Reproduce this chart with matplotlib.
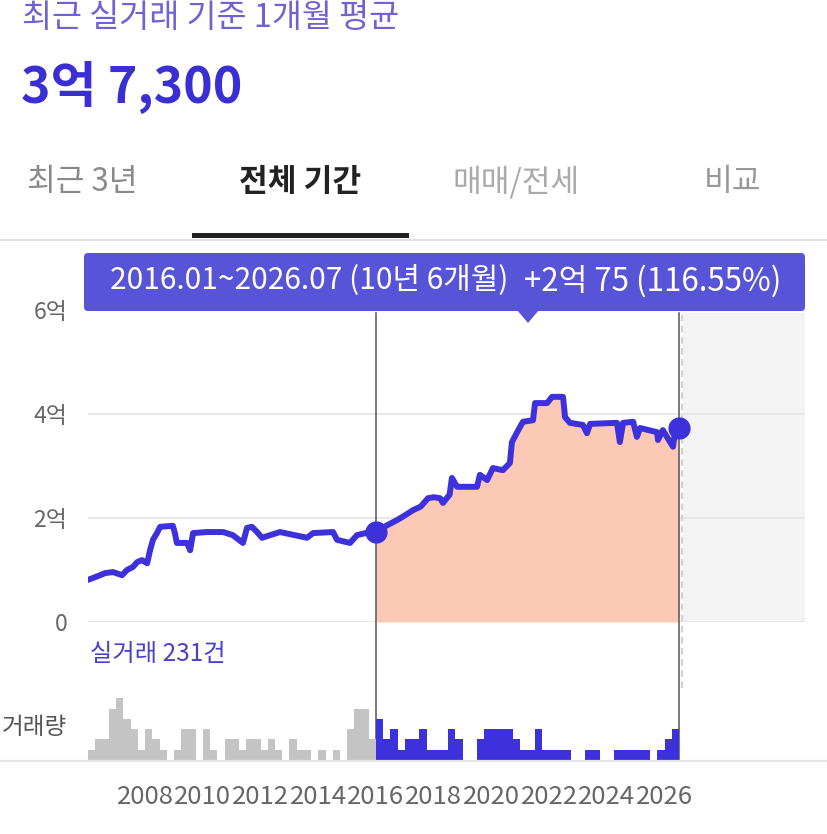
import numpy as np
import matplotlib
matplotlib.use('Agg')
import matplotlib.pyplot as plt
from matplotlib.patches import FancyBboxPatch, Polygon, Rectangle
from matplotlib.lines import Line2D

plt.rcParams['font.family'] = ['Noto Sans CJK KR', 'DejaVu Sans']

# ---------------- data ----------------
title_text = '최근 실거래 기준 1개월 평균'
price_text = '3억 7,300'
tabs = ['최근 3년', '전체 기간', '매매/전세', '비교']
tooltip_period = '2016.01~2026.07 (10년 6개월)'
tooltip_change = '+2억 75 (116.55%)'
count_text = '실거래 231건'
volume_label = '거래량'

price_t = [2006.02, 2006.44, 2006.61, 2006.89, 2007.20, 2007.37, 2007.58, 2007.72,
           2007.89, 2008.07, 2008.17, 2008.27, 2008.41, 2008.52, 2008.96, 2009.03,
           2009.10, 2009.45, 2009.56, 2009.66, 2010.14, 2010.70, 2011.04, 2011.39,
           2011.53, 2011.70, 2011.88, 2012.05, 2012.67, 2013.61, 2013.82, 2014.51,
           2014.65, 2015.10, 2015.34, 2015.79, 2016.00,
           2016.35, 2016.73, 2017.00, 2017.28, 2017.55, 2017.80, 2018.00, 2018.22,
           2018.32, 2018.55, 2018.63, 2018.81, 2019.50, 2019.60, 2019.85, 2020.05,
           2020.40, 2020.64, 2020.71, 2020.89, 2021.09, 2021.44, 2021.51, 2021.93,
           2022.10, 2022.48, 2022.55, 2022.72, 2023.17, 2023.31, 2023.42, 2024.35,
           2024.45, 2024.56, 2024.91, 2025.04, 2025.15, 2025.74, 2025.77, 2025.94,
           2026.29, 2026.36, 2026.50]
price_v = [0.81, 0.90, 0.94, 0.96, 0.90, 1.00, 1.06, 1.15,
           1.19, 1.13, 1.38, 1.58, 1.71, 1.83, 1.85, 1.71,
           1.52, 1.52, 1.38, 1.71, 1.73, 1.73, 1.67, 1.52,
           1.81, 1.83, 1.73, 1.62, 1.73, 1.62, 1.71, 1.73,
           1.58, 1.52, 1.67, 1.73, 1.7225,
           1.85, 1.96, 2.05, 2.15, 2.22, 2.38, 2.40, 2.38,
           2.29, 2.45, 2.77, 2.60, 2.60, 2.83, 2.73, 2.96,
           2.92, 3.06, 3.46, 3.65, 3.85, 3.88, 4.21, 4.21,
           4.33, 4.33, 3.94, 3.83, 3.79, 3.63, 3.81, 3.83,
           3.46, 3.83, 3.85, 3.56, 3.73, 3.65, 3.50, 3.69,
           3.37, 3.65, 3.73]

range_start, range_end = 2016.0, 2026.5
range_start_v, range_end_v = 1.7225, 3.73

# quarterly transaction counts 2006Q1 .. 2026Q2
vol_counts = [1, 2, 2, 5, 6, 4, 3, 1, 3, 2, 1, 0, 1, 3, 3, 0, 3, 1, 0, 2,
              2, 1, 2, 2, 1, 2, 1, 0, 2, 1, 1, 0, 1, 0, 1, 0, 3, 5, 5, 2,
              4, 2, 3, 1, 2, 2, 3, 1, 1, 1, 3, 2, 0, 0, 2, 3, 3, 3, 3, 2, 1, 1,
              3, 1, 1, 1, 1, 0, 0, 1, 1, 0, 0, 1, 1, 1, 1, 1, 0, 1, 2, 3]
vol_start_year = 2006.0

y_ticks = [0, 2, 4, 6]
y_labels = ['0', '2억', '4억', '6억']
x_ticks = [2008, 2010, 2012, 2014, 2016, 2018, 2020, 2022, 2024, 2026]
x_labels = [str(y) for y in x_ticks]

# ---------------- layout ----------------
W, H = 827, 834
fig = plt.figure(figsize=(W / 100, H / 100), dpi=100)


def fx(px):
    return px / W


def fy(py):
    return 1 - py / H


BLUE = '#3d31db'
X0, X1 = 2006.02, 2030.865
AX_L, AX_R, AX_T, AX_B = 88, 805, 310, 622
ax = fig.add_axes([fx(AX_L), fy(AX_B), (AX_R - AX_L) / W, (AX_B - AX_T) / H])
ax.set_xlim(X0, X1)
ax.set_ylim(0, 6)
for s in ax.spines.values():
    s.set_visible(False)
ax.set_yticks(y_ticks)
ax.set_yticklabels(y_labels, fontsize=16.5, color='#666666')
ax.tick_params(axis='y', length=0, pad=15)
ax.set_xticks([])
ax.yaxis.grid(True, color='#e6e6e6', lw=1.3)
ax.set_axisbelow(True)
ax.patch.set_alpha(0)

# future (empty) region
ax.axvspan(2026.64, X1, ymin=0, ymax=0.99, color='#f3f3f3', zorder=0.2, lw=0)

t = np.array(price_t)
v = np.array(price_v)
mask = t >= range_start
ax.fill_between(t[mask], v[mask], 0, color='#fdc9b7', lw=0, zorder=1)
ax.plot(t, v, color=BLUE, lw=4.3, solid_joinstyle='round', solid_capstyle='round', zorder=3)
ax.plot([range_start, range_end], [range_start_v, range_end_v], 'o', ms=15,
        color=BLUE, zorder=4, clip_on=False)

hgt = AX_B - AX_T
ax.axvline(range_start, ymin=(AX_B - 760) / hgt, ymax=(AX_B - 313) / hgt,
           color='#555555', lw=1.1, clip_on=False, zorder=2.5)
ax.axvline(range_end, ymin=(AX_B - 760) / hgt, ymax=(AX_B - 313) / hgt,
           color='#555555', lw=1.1, clip_on=False, zorder=2.5)
ax.axvline(2026.6, ymin=(AX_B - 688) / hgt, ymax=(AX_B - 313) / hgt,
           color='#d2d2d2', lw=1.6, ls=(0, (3, 2)), clip_on=False, zorder=2.4)

# volume axes
vax = fig.add_axes([fx(AX_L), fy(760), (AX_R - AX_L) / W, 70 / H])
vax.set_xlim(X0, X1)
vax.set_ylim(0, 70 / 10.3)
vx = vol_start_year + 0.25 * np.arange(len(vol_counts))
vcol = ['#c4c4c4' if q < range_start else BLUE for q in vx]
vax.bar(vx, vol_counts, width=0.25, align='edge', color=vcol, lw=0)
for s in vax.spines.values():
    s.set_visible(False)
vax.set_yticks([])
vax.set_xticks(x_ticks)
vax.set_xticklabels(x_labels, fontsize=18.5, color='#666666')
vax.tick_params(axis='x', length=0, pad=17)
vax.patch.set_alpha(0)

fig.add_artist(Line2D([0, 1], [fy(761), fy(761)], transform=fig.transFigure,
                      color='#e6e6e6', lw=1.6))

# overlay for header / tabs / tooltip
ov = fig.add_axes([0, 0, 1, 1])
ov.set_xlim(0, W)
ov.set_ylim(H, 0)
ov.axis('off')
ov.patch.set_alpha(0)
ov.set_zorder(10)

ov.text(22, 18, title_text, fontsize=23.5, color='#6e62d4', va='center', ha='left')
ov.text(21, 87, price_text, fontsize=36, color='#3a2fd4', va='center', ha='left',
        fontweight='bold')

tab_x = [82, 300, 516, 733]
tab_col = ['#8a8a8a', '#222222', '#aaaaaa', '#999999']
for tx, lab, c in zip(tab_x, tabs, tab_col):
    ov.text(tx, 182, lab, fontsize=22.5, color=c, va='center', ha='center',
            fontweight='bold' if c == '#222222' else 'normal')
ov.plot([0, W], [239.5, 239.5], color='#e2e2e2', lw=1.5)
ov.add_patch(Rectangle((192, 233), 217, 5, fc='#222222', ec='none'))

ov.add_patch(FancyBboxPatch((84, 253), 721, 58,
                            boxstyle='round,pad=0,rounding_size=4',
                            fc='#5754d8', ec='none'))
ov.add_patch(Polygon([(517, 310), (539, 310), (528, 323)], closed=True,
                     fc='#5754d8', ec='none'))
ov.text(110, 281, tooltip_period, fontsize=21.5, color='white', va='center', ha='left')
ov.text(524, 281, tooltip_change, fontsize=22.5, color='white', va='center', ha='left')

ov.text(90, 654, count_text, fontsize=17.5, color='#4a3fcf', va='center', ha='left')
ov.text(2, 727, volume_label, fontsize=17, color='#555555', va='center', ha='left')

fig.savefig('out.png', dpi=100)
